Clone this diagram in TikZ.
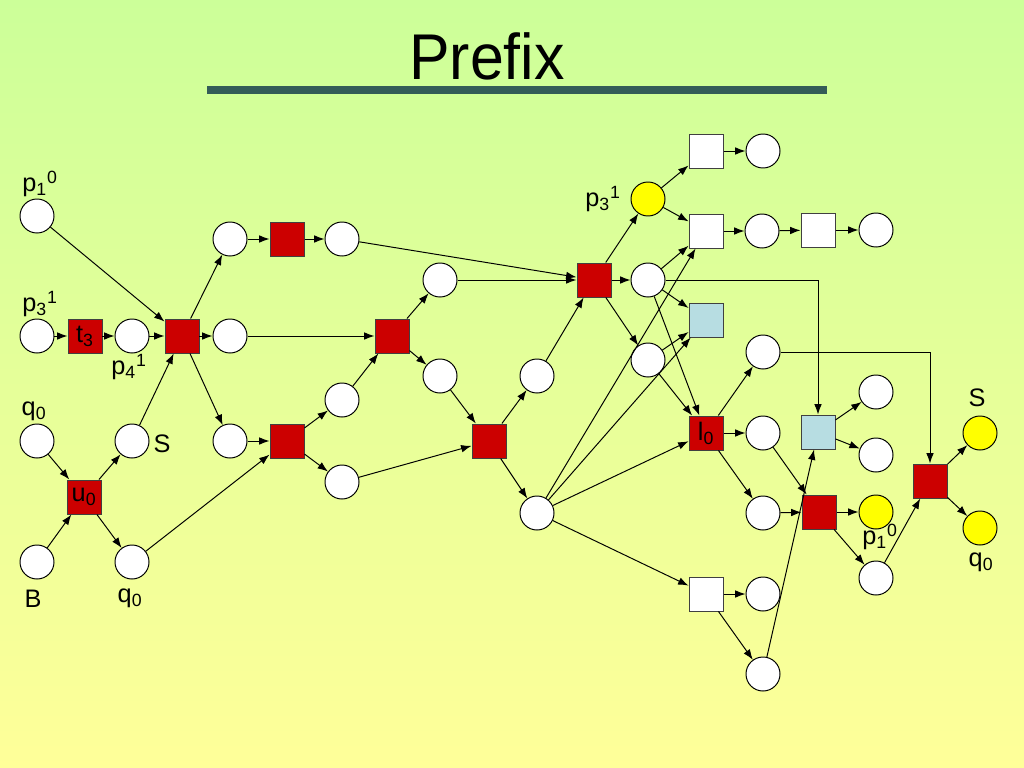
\documentclass[tikz,border=0pt]{standalone}
\usepackage{fontspec}
\setmainfont{Liberation Sans}
\usetikzlibrary{arrows.meta}
\definecolor{bgtop}{RGB}{204,255,153}
\definecolor{bgbot}{RGB}{255,255,153}
\definecolor{trred}{RGB}{204,0,0}
\definecolor{trblue}{RGB}{183,221,226}
\definecolor{tokyel}{RGB}{255,255,0}
\definecolor{barteal}{RGB}{52,92,88}

\begin{document}
\begin{tikzpicture}[x=0.025cm, y=-0.025cm,
    plc/.style={circle, draw, fill=white, minimum size=0.85cm, inner sep=0pt, line width=0.7pt},
    yel/.style={plc, fill=tokyel},
    tr/.style={rectangle, draw=black!75, minimum size=0.85cm, inner sep=0pt, line width=0.7pt, font=\fontsize{18}{20}\selectfont},
    redtr/.style={tr, fill=trred},
    whitetr/.style={tr, fill=white},
    bluetr/.style={tr, fill=trblue},
    arc/.style={-{Latex[length=2.6mm, width=1.9mm]}, line width=0.7pt},
    lbl/.style={font=\fontsize{18}{20}\selectfont, inner sep=0pt}
]
    % Background and title
    \shade[top color=bgtop, bottom color=bgbot] (0,0) rectangle (1024,768);
    \useasboundingbox (0,0) rectangle (1024,768);
    \node[font=\fontsize{46}{50}\selectfont, anchor=base, xscale=0.94, transform shape] (title) at (487,80) {Prefix};
    \fill[barteal] (207,86) rectangle (827,94);

    % Initial places and first transitions
    \node[plc] (pone) at (37,216) {};
    \node[lbl] (pone-l) at (40,184) {p\textsubscript{1}\textsuperscript{0}};
    \node[plc] (pthree) at (37,336) {};
    \node[lbl] (pthree-l) at (40,304) {p\textsubscript{3}\textsuperscript{1}};
    \node[redtr] (tthree) at (85,336) {t\textsubscript{3}};
    \node[plc] (pfour) at (132,336) {};
    \node[lbl] (pfour-l) at (129,367) {p\textsubscript{4}\textsuperscript{1}};
    \node[redtr] (ta) at (182,336) {};

    \node[plc] (qzero) at (37,441) {};
    \node[lbl] (qzero-l) at (34,411) {q\textsubscript{0}};
    \node[plc] (ess) at (132,441) {};
    \node[lbl] (ess-l) at (162,444) {S};
    \node[redtr] (uzero) at (84,497) {u\textsubscript{0}};
    \node[plc] (bee) at (37,562) {};
    \node[lbl] (bee-l) at (33,599) {B};
    \node[plc] (qzerob) at (132,562) {};
    \node[lbl] (qzerob-l) at (130,598) {q\textsubscript{0}};

    % Middle part
    \node[plc] (c1) at (230,239) {};
    \node[redtr] (tb) at (287,239) {};
    \node[plc] (c2) at (342,239) {};
    \node[plc] (c3) at (230,336) {};
    \node[plc] (c4) at (230,441) {};
    \node[redtr] (tc) at (287,441) {};
    \node[plc] (c5) at (342,400) {};
    \node[plc] (c6) at (342,482) {};
    \node[redtr] (td) at (392,336) {};
    \node[plc] (c7) at (440,280) {};
    \node[plc] (c8) at (440,376) {};
    \node[redtr] (te) at (489,441) {};
    \node[plc] (c9) at (537,376) {};
    \node[plc] (c10) at (537,513) {};
    \node[redtr] (tf) at (594,280) {};

    % Right part
    \node[yel] (ythree) at (648,199) {};
    \node[lbl] (ythree-l) at (603,199) {p\textsubscript{3}\textsuperscript{1}};
    \node[plc] (c11) at (648,280) {};
    \node[plc] (c12) at (648,360) {};
    \node[whitetr] (wa) at (706,151) {};
    \node[plc] (c13) at (763,151) {};
    \node[whitetr] (wb) at (706,231) {};
    \node[plc] (c14) at (762,231) {};
    \node[whitetr] (wc) at (818,230) {};
    \node[plc] (c15) at (876,230) {};
    \node[bluetr] (bla) at (706,320) {};
    \node[plc] (c16) at (763,352) {};
    \node[redtr] (lzero) at (706,433) {l\textsubscript{0}};
    \node[plc] (c17) at (763,433) {};
    \node[plc] (c18) at (763,513) {};
    \node[bluetr] (blb) at (818,432) {};
    \node[plc] (c19) at (876,392) {};
    \node[plc] (c20) at (876,455) {};
    \node[redtr] (tg) at (819,512) {};
    \node[yel] (yone) at (876,512) {};
    \node[lbl] (yone-l) at (880,537) {p\textsubscript{1}\textsuperscript{0}};
    \node[plc] (c21) at (876,578) {};
    \node[redtr] (th) at (930,481) {};
    \node[yel] (yess) at (980,433) {};
    \node[lbl] (yess-l) at (977,398) {S};
    \node[yel] (yq) at (980,528) {};
    \node[lbl] (yq-l) at (981,562) {q\textsubscript{0}};
    \node[whitetr] (wd) at (706,594) {};
    \node[plc] (c22) at (763,594) {};
    \node[plc] (c23) at (763,674) {};

    % Arcs, left
    \draw[arc] (pone) -- (ta);
    \draw[arc] (pthree) -- (tthree);
    \draw[arc] (tthree) -- (pfour);
    \draw[arc] (pfour) -- (ta);
    \draw[arc] (ess) -- (ta);
    \draw[arc] (qzero) -- (uzero);
    \draw[arc] (bee) -- (uzero);
    \draw[arc] (uzero) -- (ess);
    \draw[arc] (uzero) -- (qzerob);
    \draw[arc] (ta) -- (c1);
    \draw[arc] (ta) -- (c3);
    \draw[arc] (ta) -- (c4);

    % Arcs, middle
    \draw[arc] (c1) -- (tb);
    \draw[arc] (tb) -- (c2);
    \draw[arc] (c2) -- (tf);
    \draw[arc] (c3) -- (td);
    \draw[arc] (c4) -- (tc);
    \draw[arc] (qzerob) -- (tc);
    \draw[arc] (tc) -- (c5);
    \draw[arc] (tc) -- (c6);
    \draw[arc] (c5) -- (td);
    \draw[arc] (td) -- (c7);
    \draw[arc] (td) -- (c8);
    \draw[arc] (c7) -- (tf);
    \draw[arc] (c8) -- (te);
    \draw[arc] (c6) -- (te);
    \draw[arc] (te) -- (c9);
    \draw[arc] (te) -- (c10);
    \draw[arc] (c9) -- (tf);

    % Arcs, right
    \draw[arc] (tf) -- (ythree);
    \draw[arc] (tf) -- (c11);
    \draw[arc] (tf) -- (c12);
    \draw[arc] (ythree) -- (wa);
    \draw[arc] (ythree) -- (wb);
    \draw[arc] (wa) -- (c13);
    \draw[arc] (c11) -- (wb);
    \draw[arc] (c10) -- (wb);
    \draw[arc] (wb) -- (c14);
    \draw[arc] (c14) -- (wc);
    \draw[arc] (wc) -- (c15);
    \draw[arc] (c11) -- (bla);
    \draw[arc] (c12) -- (bla);
    \draw[arc] (c10) -- (bla);
    \draw[arc] (c11) -- (lzero);
    \draw[arc] (c12) -- (lzero);
    \draw[arc] (c10) -- (lzero);
    \draw[arc] (c10) -- (wd);
    \draw[arc] (c11) -| (blb);
    \draw[arc] (lzero) -- (c16);
    \draw[arc] (lzero) -- (c17);
    \draw[arc] (lzero) -- (c18);
    \draw[arc] (c16) -| (th);
    \draw[arc] (blb) -- (c19);
    \draw[arc] (blb) -- (c20);
    \draw[arc] (c17) -- (tg);
    \draw[arc] (c18) -- (tg);
    \draw[arc] (c23) -- (blb);
    \draw[arc] (tg) -- (yone);
    \draw[arc] (tg) -- (c21);
    \draw[arc] (c21) -- (th);
    \draw[arc] (th) -- (yess);
    \draw[arc] (th) -- (yq);
    \draw[arc] (wd) -- (c22);
    \draw[arc] (wd) -- (c23);
\end{tikzpicture}
\end{document}
